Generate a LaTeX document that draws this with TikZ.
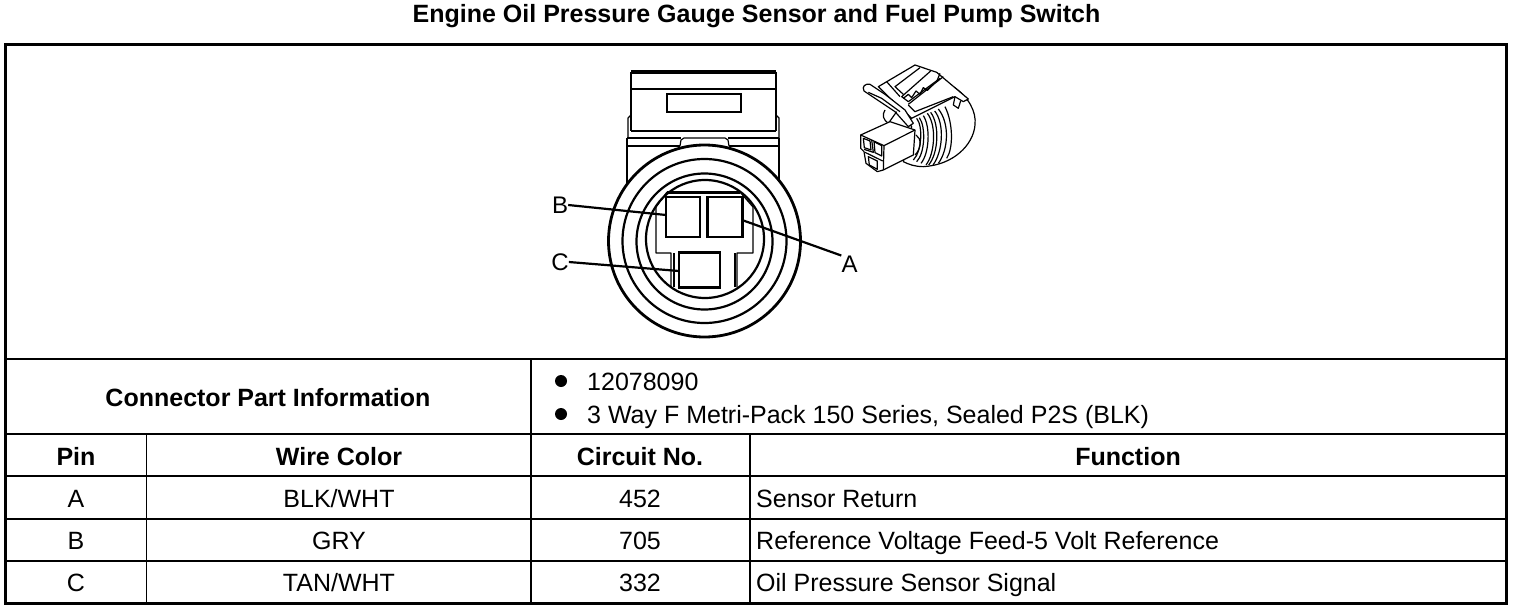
\documentclass[tikz,border=0pt]{standalone}
\usepackage{fontspec}
\setmainfont{Liberation Sans}
\tikzset{
  head/.style={font=\fontsize{25}{28}\selectfont\bfseries,inner sep=0pt,anchor=base},
  cell/.style={font=\fontsize{25}{28}\selectfont,inner sep=0pt,anchor=base},
  leftcell/.style={cell,anchor=base west},
  callout/.style={font=\fontsize{24}{26}\selectfont,inner sep=0pt},
  pin/.style={draw,line width=2.6pt,minimum width=#1,inner sep=0pt},
  thin line/.style={line width=1.4pt},
  part/.style={line width=2.2pt,line join=round},
  fine/.style={line width=1.2pt,line join=round},
}
\begin{document}
\begin{tikzpicture}[x=1pt,y=-1pt]
\useasboundingbox(0,0)rectangle(1520,610);
\node[head](title)at(756.5,23){Engine Oil Pressure Gauge Sensor and Fuel Pump Switch};
%
\draw[line width=3pt](5,45)rectangle(1506,603);
\draw[line width=2pt](5,359)--(1506,359);
\draw[thin line](5,434)--(1506,434);
\draw[line width=2.6pt](5,476)--(1506,476);
\draw[thin line](5,519)--(1506,519);
\draw[thin line](5,561)--(1506,561);
\draw[thin line](531,359)--(531,603);
\draw[thin line](146.5,434)--(146.5,603);
\draw[thin line](750,434)--(750,603);
%
\node[head](partinfo)at(268,406){Connector Part Information};
\fill(561,381)circle(6);
\fill(561,414)circle(6);
\node[leftcell](partno)at(587,390){12078090};
\node[leftcell](parttype)at(587,423){3 Way F Metri-Pack 150 Series, Sealed P2S (BLK)};
%
\node[head](hpin)at(76,465){Pin};
\node[head](hwire)at(339,465){Wire Color};
\node[head](hcirc)at(640,465){Circuit No.};
\node[head](hfunc)at(1128,465){Function};
%
\node[cell](pa)at(76,507){A};
\node[cell](wa)at(339,507){BLK/WHT};
\node[cell](ca)at(640,507){452};
\node[leftcell](fa)at(756,507){Sensor Return};
\node[cell](pb)at(76,549){B};
\node[cell](wb)at(339,549){GRY};
\node[cell](cb)at(640,549){705};
\node[leftcell](fb)at(756,549){Reference Voltage Feed-5 Volt Reference};
\node[cell](pc)at(76,591){C};
\node[cell](wc)at(339,591){TAN/WHT};
\node[cell](cc)at(640,591){332};
\node[leftcell](fc)at(756,591){Oil Pressure Sensor Signal};
%
% housing
\draw[line width=3pt](631,72)--(776,72);
\draw[part](631,72)--(631,131);
\draw[part](776,72)--(776,131);
\draw[line width=2.4pt](631,89)--(776,89);
\draw[line width=2.6pt](667,94)rectangle(741,112);
\draw[line width=2.4pt](631,131)--(776,131);
\draw[fine](631,115)--(628,118)--(628,138);
\draw[fine](776,115)--(779,118)--(779,138);
\draw[part](627,138)--(681,138);
\draw[part](728,138)--(779,138);
\draw[line width=2.6pt](627,146)--(680,146);
\draw[line width=2.6pt](729,146)--(779,146);
\draw[fine](680,146)--(681,140)--(684,138)--(725,138)--(728,140)--(729,146);
\draw[part](627,138)--(627,183);
\draw[part](779,138)--(779,183);
%
% round seal
\draw[fill=white,line width=2.8pt](704.5,241)circle(96);
\draw[part](704.5,241)circle(82);
\draw[part](704.5,241.5)circle(68);
\draw[part](705,239)circle(59);
%
% contact carrier
\draw[line width=3pt](667,192)--(740,192);
\draw[fine](667,192)--(656,207)--(656,253)--(671,253)--(671,287);
\draw[fine](740,192)--(753,207)--(753,253)--(737,253)--(737,287);
\draw[fine](674,253)--(674,287);
\draw[fine](735,253)--(735,287);
%
\node[pin=34pt,minimum height=40pt,fill=white](pinB)at(683,217){};
\node[pin=35pt,minimum height=40pt,fill=white](pinA)at(725,217){};
\node[pin=41pt,minimum height=35pt,fill=white](pinC)at(699.5,270){};
%
\node[callout](lblB)at(560,205){B};
\node[callout](lblC)at(560,262){C};
\node[callout](lblA)at(849.5,264){A};
\coordinate(tipB)at(666,215);
\coordinate(tipC)at(679,271);
\coordinate(tipA)at(742,220);
\draw[part](lblB.east)--(tipB);
\draw[part](lblC.east)--(tipC);
\draw[part](lblA.north west)--(tipA);
%
% small view of the connector
\begin{scope}[shift={(840,55)},x=0.3333pt,y=-0.3333pt]
\draw[fine,fill=white](340,95)..controls(385,125)and(410,170)..(405,210)..controls(400,270)and(340,330)..(250,335)..controls(225,335)and(205,328)..(190,320)--(215,215)--(180,165)--(300,110)--cycle;
% clip
\draw[fine,fill=white](115,95)--(225,30)--(290,52)--(385,132)--(370,140)--(345,125)--(215,190)--(190,165)--(150,130)--cycle;
\draw[fine](140,80)--(180,125);
\draw[fine](240,38)--(165,95)--(190,118);
\draw[fine](272,48)--(185,125)--(205,140)--(300,70);
\draw[fine](300,55)--(290,80);
\draw[fine](310,65)--(205,148);
\draw[fine](190,130)--(205,118)--(215,128)--(228,108)--(240,118)--(250,98)--(262,106)--(280,88);
\draw[fine](345,125)--(340,150)--(355,160)--(362,138);
\draw[fine](205,150)--(225,170)--(340,125);
% ribs
\draw[fine](230,190)..controls(250,215)and(245,290)..(220,315);
\draw[fine](238,188)..controls(258,215)and(255,295)..(230,320);
\draw[fine](250,182)..controls(272,215)and(268,295)..(243,325);
\draw[fine](262,175)..controls(290,210)and(285,295)..(258,330);
\draw[fine](272,172)..controls(300,210)and(295,295)..(266,330);
\draw[fine](284,168)..controls(314,205)and(309,290)..(279,330);
\draw[fine](295,162)..controls(330,205)and(325,285)..(295,325);
\draw[fine](315,155)..controls(340,205)and(340,280)..(320,310);
\draw[fine](228,240)..controls(245,250)and(245,280)..(225,300);
% lever
\draw[fine,fill=white](72,108)..controls(65,95)and(75,85)..(90,88)--(135,118)--(195,165)--(220,205)--(205,215)--(165,170)--(120,140)--cycle;
\draw[fine](85,112)--(125,130)--(180,170);
\draw[fine](135,165)..controls(125,180)and(130,195)..(145,205)--(170,170);
% plug
\draw[fine,fill=white](62,240)--(150,200)--(225,225)--(220,300)--(130,345)--(112,350)--(78,325)--(72,290)--(62,280)--cycle;
\draw[fine](62,240)--(132,272)--(225,225);
\draw[fine](132,272)--(130,345);
\draw[fine](95,255)--(100,292)--(72,283);
\draw[fine](70,250)--(90,258)--(93,285)--(73,278)--cycle;
\draw[fine](102,260)--(125,272)--(125,303)--(105,293)--cycle;
\draw[fine](85,305)--(112,318)--(112,343)--(88,330)--cycle;
\draw[fine](75,292)--(128,318);
\end{scope}
\end{tikzpicture}
\end{document}
